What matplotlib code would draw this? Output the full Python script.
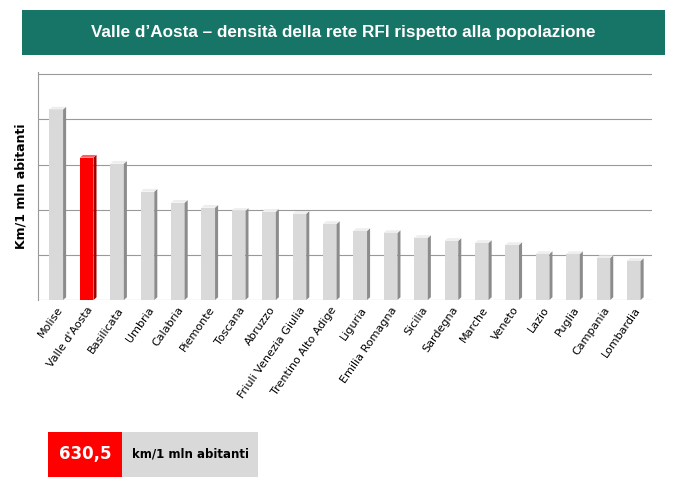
import matplotlib.pyplot as plt
from matplotlib.patches import Rectangle, Polygon

regions = ["Molise", "Valle d'Aosta", "Basilicata", "Umbria", "Calabria", "Piemonte",
           "Toscana", "Abruzzo", "Friuli Venezia Giulia", "Trentino Alto Adige", "Liguria",
           "Emilia Romagna", "Sicilia", "Sardegna", "Marche", "Veneto", "Lazio", "Puglia",
           "Campania", "Lombardia"]
values = [844, 630.5, 604, 480, 431, 409, 395, 391, 382, 337, 306, 297, 275, 262,
          253, 244, 204, 204, 186, 173]

fig = plt.figure(figsize=(6.74, 4.82), dpi=100)
W, H = 674, 482

# title band
band = fig.add_axes([22 / W, 1 - 55 / H, 643 / W, 45 / H])
band.set_facecolor("#167567")
band.set_xticks([]); band.set_yticks([])
for s in band.spines.values():
    s.set_visible(False)
band.text(0.5, 0.5, "Valle d\u2019Aosta \u2013 densità della rete RFI rispetto alla popolazione",
          color="white", fontsize=12.3, fontweight="bold", ha="center", va="center",
          transform=band.transAxes, family="Liberation Sans")

ax = fig.add_axes([38 / W, 1 - 300 / H, 614 / W, 228 / H])
ax.set_xlim(-0.6, len(regions) - 0.4)
ax.set_ylim(0, 1010)
for g in range(200, 1001, 200):
    ax.axhline(g, color="#999999", lw=0.8, zorder=0)
ax.axhline(0, color="#999999", lw=0.8, zorder=0)
ax.set_yticks(range(0, 1001, 200))
ax.set_yticklabels([])
ax.tick_params(axis="y", length=0)
ax.tick_params(axis="x", length=0)
for s in ["top", "right", "bottom"]:
    ax.spines[s].set_visible(False)
ax.spines["left"].set_color("#999999")

bw = 0.45
dx, dy = 0.1, 12
for i, v in enumerate(values):
    front = "#ff0000" if i == 1 else "#d9d9d9"
    side = "#a00000" if i == 1 else "#8c8c8c"
    top = "#ff6060" if i == 1 else "#eeeeee"
    x0 = i - bw / 2
    ax.add_patch(Rectangle((x0, 0), bw, v, facecolor=front, edgecolor="none", zorder=3))
    ax.add_patch(Polygon([(x0 + bw, 0), (x0 + bw + dx, dy), (x0 + bw + dx, v + dy), (x0 + bw, v)],
                         facecolor=side, edgecolor="none", zorder=3))
    ax.add_patch(Polygon([(x0, v), (x0 + dx, v + dy), (x0 + bw + dx, v + dy), (x0 + bw, v)],
                         facecolor=top, edgecolor="none", zorder=3))

ax.set_xticks(range(len(regions)))
ax.set_xticklabels(regions, rotation=55, ha="right", rotation_mode="anchor", fontsize=8)
ax.set_ylabel("Km/1 mln abitanti", fontsize=9, fontweight="bold")

# value box
fig.patches.append(Rectangle((48 / W, 1 - 477 / H), 74 / W, 45 / H, transform=fig.transFigure,
                             facecolor="#ff0000", edgecolor="none"))
fig.patches.append(Rectangle((122 / W, 1 - 477 / H), 136 / W, 45 / H, transform=fig.transFigure,
                             facecolor="#d9d9d9", edgecolor="none"))
fig.text(85 / W, 1 - 454 / H, "630,5", color="white", fontsize=12, fontweight="bold",
         ha="center", va="center")
fig.text(190 / W, 1 - 454 / H, "km/1 mln abitanti", color="black", fontsize=8.5,
         fontweight="bold", ha="center", va="center")

fig.savefig("out.png", dpi=100)
